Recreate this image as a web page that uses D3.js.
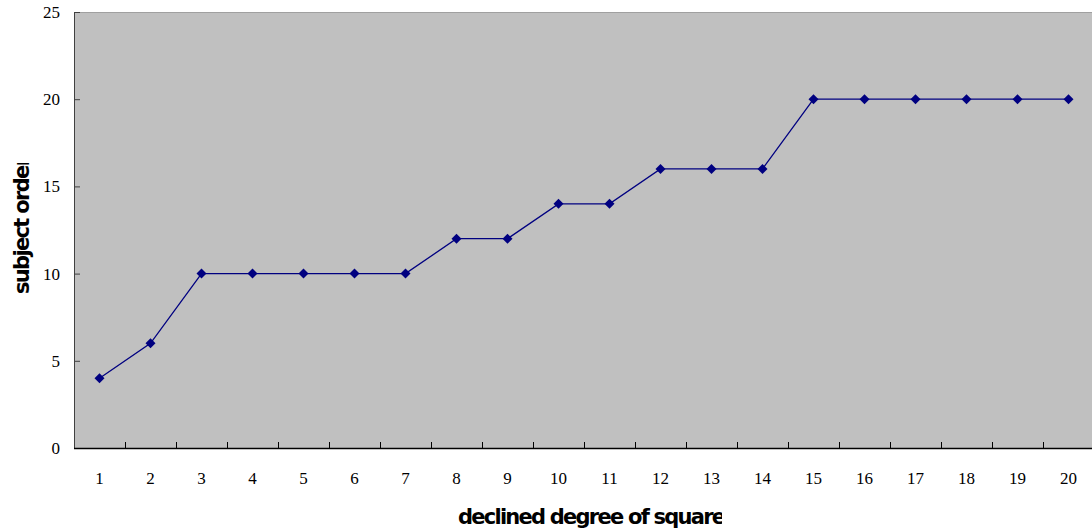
<!DOCTYPE html>
<html>
<head>
<meta charset="utf-8">
<script src="https://cdn.jsdelivr.net/npm/d3@7"></script>
<style>
  body { margin: 0; background: #fff; }
  svg { display: block; }
</style>
</head>
<body>
<div id="chart"></div>
<script>
// chart data
const degrees = [1, 2, 3, 4, 5, 6, 7, 8, 9, 10, 11, 12, 13, 14, 15, 16, 17, 18, 19, 20];
const subjectOrder = [4, 6, 10, 10, 10, 10, 10, 12, 12, 14, 14, 16, 16, 16, 20, 20, 20, 20, 20, 20];
const yTicks = [0, 5, 10, 15, 20, 25];

const margin = {top: 12, right: -2, bottom: 84, left: 74},
      width = 1092 - margin.left - margin.right,
      height = 532 - margin.top - margin.bottom;

const svg = d3.select("#chart")
  .append("svg")
    .attr("width", 1092)
    .attr("height", 532);

const g = svg.append("g")
    .attr("transform", `translate(${margin.left},${margin.top})`);

const x = d3.scaleBand()
    .domain(degrees)
    .range([0, width]);

const y = d3.scaleLinear()
    .domain([0, 25])
    .range([height, 0]);

// plot background
g.append("rect")
    .attr("width", width)
    .attr("height", height)
    .attr("fill", "#c0c0c0");

// top border
g.append("line")
    .attr("x1", 0).attr("x2", width)
    .attr("y1", 0.5).attr("y2", 0.5)
    .attr("stroke", "#a0a0a0");

// y axis, ticks pointing inward
const yAxis = g.append("g")
    .call(d3.axisRight(y).tickValues(yTicks).tickSize(6).tickFormat(""));
yAxis.select(".domain").attr("stroke", "#404040").attr("d", `M0.5,0V${height}`);
yAxis.selectAll(".tick line").attr("stroke", "#404040");

g.selectAll(".ylab")
  .data(yTicks)
  .join("text")
    .attr("class", "ylab")
    .attr("x", -14)
    .attr("y", d => y(d) + 6)
    .attr("text-anchor", "end")
    .style("font-family", "'Liberation Serif', 'Times New Roman', serif")
    .style("font-size", "17px")
    .text(d => d);

// x axis, ticks between categories pointing up
const xAxis = g.append("g")
    .attr("transform", `translate(0,${height})`);
xAxis.append("line")
    .attr("x1", 0).attr("x2", width)
    .attr("y1", 0.5).attr("y2", 0.5)
    .attr("stroke", "#000")
    .attr("stroke-width", 1.5);
xAxis.selectAll(".xtick")
  .data(degrees.slice(1))
  .join("line")
    .attr("class", "xtick")
    .attr("x1", d => Math.round(x(d)) + 0.5)
    .attr("x2", d => Math.round(x(d)) + 0.5)
    .attr("y1", 0).attr("y2", -6)
    .attr("stroke", "#000");
xAxis.selectAll(".xlab")
  .data(degrees)
  .join("text")
    .attr("class", "xlab")
    .attr("x", d => x(d) + x.bandwidth() / 2)
    .attr("y", 36)
    .attr("text-anchor", "middle")
    .style("font-family", "'Liberation Serif', 'Times New Roman', serif")
    .style("font-size", "17px")
    .text(d => d);

// line
const pts = degrees.map((d, i) => ({deg: d, val: subjectOrder[i]}));
g.append("path")
    .datum(pts)
    .attr("fill", "none")
    .attr("stroke", "#000080")
    .attr("stroke-width", 1.3)
    .attr("d", d3.line()
      .x(d => x(d.deg) + x.bandwidth() / 2)
      .y(d => y(d.val)));

// diamond markers
g.selectAll(".pt")
  .data(pts)
  .join("path")
    .attr("class", "pt")
    .attr("transform", d => `translate(${x(d.deg) + x.bandwidth() / 2},${y(d.val)})`)
    .attr("d", "M0,-5L5,0L0,5L-5,0Z")
    .attr("fill", "#000080");

// axis titles (clipped like the original text boxes)
svg.append("clipPath").attr("id", "xclip")
  .append("rect").attr("x", 440).attr("y", 495).attr("width", 282).attr("height", 37);
svg.append("clipPath").attr("id", "yclip")
  .append("rect").attr("x", 0).attr("y", 163).attr("width", 40).attr("height", 140);

svg.append("g")
    .attr("clip-path", "url(#xclip)")
  .append("text")
    .attr("x", 458)
    .attr("y", 524)
    .attr("textLength", 268)
    .attr("lengthAdjust", "spacing")
    .style("font-family", "'DejaVu Sans', Verdana, sans-serif")
    .style("font-weight", "bold")
    .style("font-size", "21px")
    .text("declined degree of square");

svg.append("g")
    .attr("clip-path", "url(#yclip)")
  .append("text")
    .attr("transform", "translate(29,294) rotate(-90)")
    .attr("textLength", 138)
    .attr("lengthAdjust", "spacing")
    .style("font-family", "'DejaVu Sans', Verdana, sans-serif")
    .style("font-weight", "bold")
    .style("font-size", "21px")
    .text("subject order");
</script>
</body>
</html>
